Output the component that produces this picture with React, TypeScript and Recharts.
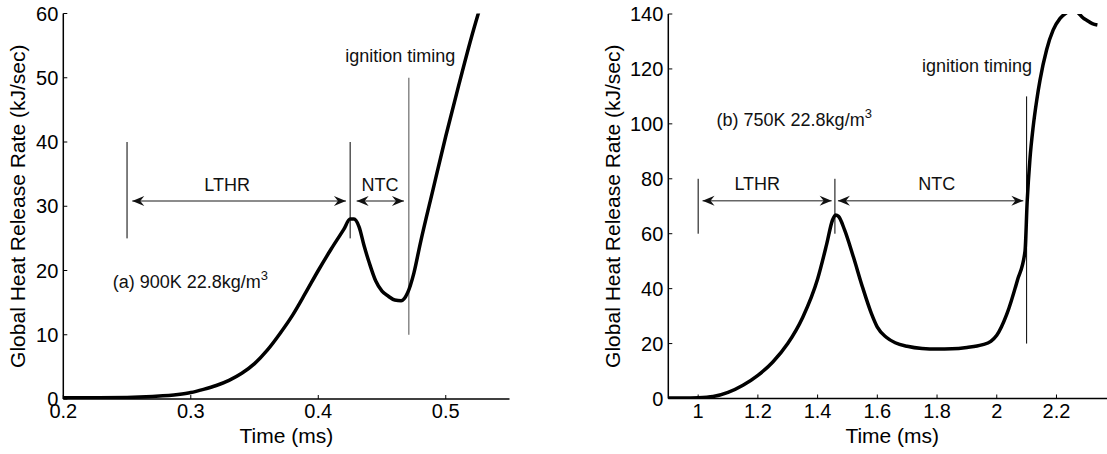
import React from "react";
import { LineChart, Line, XAxis, YAxis, ReferenceLine, ReferenceDot } from "recharts";

// (a) 900K 22.8kg/m3
const timeA = [
  0.2, 0.22, 0.25, 0.27, 0.29, 0.3, 0.31, 0.32, 0.33, 0.34, 0.35, 0.36, 0.37, 0.38,
  0.39, 0.4, 0.41, 0.42, 0.425, 0.428, 0.432, 0.436, 0.44, 0.445, 0.45, 0.455, 0.46,
  0.465, 0.47, 0.475, 0.48, 0.49, 0.5, 0.51, 0.52, 0.527,
];
const hrrA = [
  0.2, 0.2, 0.25, 0.4, 0.7, 1.0, 1.5, 2.1, 2.9, 4.0, 5.5, 7.6, 10.2, 13.1,
  16.5, 20.0, 23.3, 26.4, 28.0, 28.0, 26.8, 23.8, 21.2, 18.4, 16.8, 16.0, 15.4,
  15.3, 16.5, 19.6, 24.2, 32.6, 40.9, 48.7, 56.2, 61,
];
const xTicksA = [0.2, 0.3, 0.4, 0.5];
const yTicksA = [0, 10, 20, 30, 40, 50, 60];

// (b) 750K 22.8kg/m3
const timeB = [
  0.9, 0.95, 1.0, 1.05, 1.1, 1.15, 1.2, 1.25, 1.3, 1.35, 1.4, 1.43, 1.45, 1.46, 1.47,
  1.49, 1.52, 1.55, 1.58, 1.6, 1.63, 1.66, 1.7, 1.75, 1.8, 1.85, 1.9, 1.95, 1.98, 2.0,
  2.033, 2.069, 2.0945, 2.102, 2.111, 2.122, 2.134, 2.145, 2.167, 2.189, 2.212, 2.234,
  2.255, 2.272, 2.29, 2.3, 2.32, 2.337,
];
const hrrB = [
  0.2, 0.2, 0.3, 0.7, 2.2, 4.8, 8.4, 13.3, 20, 29.5, 43.5, 56, 65, 66.8, 66.3,
  61.5, 51.5, 40.7, 31, 26, 22.3, 20.3, 19, 18.2, 18, 18.1, 18.6, 19.5, 20.8, 23,
  30.5, 43, 53.5, 72, 87, 99, 108.7, 116, 127, 134.2, 138.4, 140.5,
  142, 140.5, 138.5, 137.8, 136.5, 136,
];
const xTicksB = [1, 1.2, 1.4, 1.6, 1.8, 2, 2.2];
const yTicksB = [0, 20, 40, 60, 80, 100, 120, 140];

// annotations, in data units
const markersA = [
  { t: 0.25, from: 25, to: 40, gray: false },
  { t: 0.425, from: 25, to: 40, gray: false },
  { t: 0.471, from: 10, to: 50, gray: true },
];
const arrowsA = [
  { from: 0.2541, to: 0.4217, y: 30.8 },
  { from: 0.4301, to: 0.4672, y: 30.8 },
];
const labelsA = [
  { t: 0.4644, v: 52.4, text: "ignition timing", anchor: "middle" },
  { t: 0.3285, v: 32.4, text: "LTHR", anchor: "middle" },
  { t: 0.4484, v: 32.4, text: "NTC", anchor: "middle" },
  { t: 0.2388, v: 17.2, text: "(a) 900K 22.8kg/m", anchor: "start", sup: "3" },
];

const markersB = [
  { t: 1.0, from: 60, to: 80, gray: false },
  { t: 1.458, from: 60, to: 80, gray: false },
  { t: 2.1, from: 20, to: 110, gray: false },
];
const arrowsB = [
  { from: 1.0147, to: 1.447, y: 72 },
  { from: 1.468, to: 2.089, y: 72 },
];
const labelsB = [
  { t: 1.934, v: 119, text: "ignition timing", anchor: "middle" },
  { t: 1.198, v: 75.9, text: "LTHR", anchor: "middle" },
  { t: 1.7987, v: 75.9, text: "NTC", anchor: "middle" },
  { t: 1.0616, v: 99.3, text: "(b) 750K 22.8kg/m", anchor: "start", sup: "3" },
];

const FONT = '"Liberation Sans", Arial, sans-serif';

const rowsA = timeA.map((t, i) => ({ t, hrr: hrrA[i] }));
const rowsB = timeB.map((t, i) => ({ t, hrr: hrrB[i] }));

function arrowHead(tx: number, ty: number, dir: number) {
  const L = 12;
  const W = 5;
  const N = 8;
  return `M${tx},${ty} L${tx - dir * L},${ty - W} L${tx - dir * N},${ty} L${tx - dir * L},${ty + W} Z`;
}

function DoubleArrow(props: any) {
  const { x1, y1, x2, y2 } = props;
  return (
    <g>
      <line x1={x1} y1={y1} x2={x2} y2={y2} stroke="#666" strokeWidth={1.5} />
      <path d={arrowHead(x1, y1, -1)} fill="#111" />
      <path d={arrowHead(x2, y2, 1)} fill="#111" />
    </g>
  );
}

function makeLabel(text: string, anchor: string, sup?: string) {
  return (p: any) => (
    <text
      x={p.cx}
      y={p.cy}
      textAnchor={anchor}
      fontSize={18}
      fontFamily={FONT}
      fill="#111"
    >
      <tspan>{text}</tspan>
      {sup ? (
        <tspan dy={-8} fontSize={13}>
          {sup}
        </tspan>
      ) : null}
    </text>
  );
}

interface PanelProps {
  rows: { t: number; hrr: number }[];
  width: number;
  xDomain: [number, number];
  yDomain: [number, number];
  xTicks: number[];
  yTicks: number[];
  yAxisWidth: number;
  yLabelOffset: number;
  top: number;
  bottom: number;
  right: number;
  markers: { t: number; from: number; to: number; gray: boolean }[];
  arrows: { from: number; to: number; y: number }[];
  labels: { t: number; v: number; text: string; anchor: string; sup?: string }[];
}

function Panel(p: PanelProps) {
  const tickStyle = { fontSize: 20, fill: "#000", fontFamily: FONT };
  const axisLine = { stroke: "#000", strokeWidth: 1.5 };
  const tickLine = { stroke: "#000", strokeWidth: 1 };
  return (
    <LineChart
      width={p.width}
      height={454}
      data={p.rows}
      margin={{ top: p.top, right: p.right, bottom: 0, left: 0 }}
    >
      <XAxis
        dataKey="t"
        type="number"
        domain={p.xDomain}
        ticks={p.xTicks}
        interval={0}
        allowDataOverflow
        height={p.bottom}
        tickSize={-4}
        tickMargin={9}
        axisLine={axisLine}
        tickLine={tickLine}
        tick={tickStyle}
        label={{
          value: "Time (ms)",
          position: "insideBottom",
          offset: 11,
          fontSize: 21,
          fill: "#000",
          fontFamily: FONT,
        }}
      />
      <XAxis
        xAxisId="top"
        orientation="top"
        type="number"
        domain={p.xDomain}
        ticks={p.xTicks}
        interval={0}
        allowDataOverflow
        height={0}
        tickSize={-4}
        axisLine={axisLine}
        tickLine={tickLine}
        tick={false}
      />
      <YAxis
        type="number"
        domain={p.yDomain}
        ticks={p.yTicks}
        interval={0}
        allowDataOverflow
        width={p.yAxisWidth}
        tickSize={-4}
        tickMargin={9}
        axisLine={axisLine}
        tickLine={tickLine}
        tick={tickStyle}
        label={{
          value: "Global Heat Release Rate (kJ/sec)",
          angle: -90,
          position: "insideLeft",
          offset: p.yLabelOffset,
          style: { textAnchor: "middle" },
          fontSize: 21,
          fill: "#000",
          fontFamily: FONT,
        }}
      />
      <YAxis
        yAxisId="right"
        orientation="right"
        type="number"
        domain={p.yDomain}
        ticks={p.yTicks}
        interval={0}
        allowDataOverflow
        width={0}
        tickSize={-4}
        axisLine={axisLine}
        tickLine={tickLine}
        tick={false}
      />
      {p.markers.map((m, i) => (
        <ReferenceLine
          key={`m${i}`}
          segment={[
            { x: m.t, y: m.from },
            { x: m.t, y: m.to },
          ]}
          stroke={m.gray ? "#888" : "#000"}
          strokeWidth={m.gray ? 1.5 : 1}
        />
      ))}
      {p.arrows.map((a, i) => (
        <ReferenceLine
          key={`a${i}`}
          segment={[
            { x: a.from, y: a.y },
            { x: a.to, y: a.y },
          ]}
          shape={DoubleArrow}
        />
      ))}
      {p.labels.map((l, i) => (
        <ReferenceDot
          key={`l${i}`}
          x={l.t}
          y={l.v}
          r={0}
          shape={makeLabel(l.text, l.anchor, l.sup)}
        />
      ))}
      <Line
        dataKey="hrr"
        type="monotone"
        stroke="#000"
        strokeWidth={3.5}
        dot={false}
        activeDot={false}
        isAnimationActive={false}
      />
    </LineChart>
  );
}

export default function App() {
  return (
    <div
      style={{
        position: "fixed",
        left: 0,
        top: 0,
        width: 1107,
        height: 454,
        overflow: "hidden",
        background: "#fff",
      }}
    >
      <div style={{ position: "absolute", left: 0, top: 0 }}>
        <Panel
          rows={rowsA}
          width={560}
          xDomain={[0.2, 0.55]}
          yDomain={[0, 60]}
          xTicks={xTicksA}
          yTicks={yTicksA}
          yAxisWidth={63.3}
          yLabelOffset={17.5}
          top={13.5}
          bottom={55}
          right={50.5}
          markers={markersA}
          arrows={arrowsA}
          labels={labelsA}
        />
      </div>
      <div style={{ position: "absolute", left: 560, top: 0 }}>
        <Panel
          rows={rowsB}
          width={580}
          xDomain={[0.9, 2.4]}
          yDomain={[0, 140]}
          xTicks={xTicksB}
          yTicks={yTicksB}
          yAxisWidth={108.3}
          yLabelOffset={53}
          top={14}
          bottom={55.5}
          right={23.8}
          markers={markersB}
          arrows={arrowsB}
          labels={labelsB}
        />
      </div>
    </div>
  );
}
